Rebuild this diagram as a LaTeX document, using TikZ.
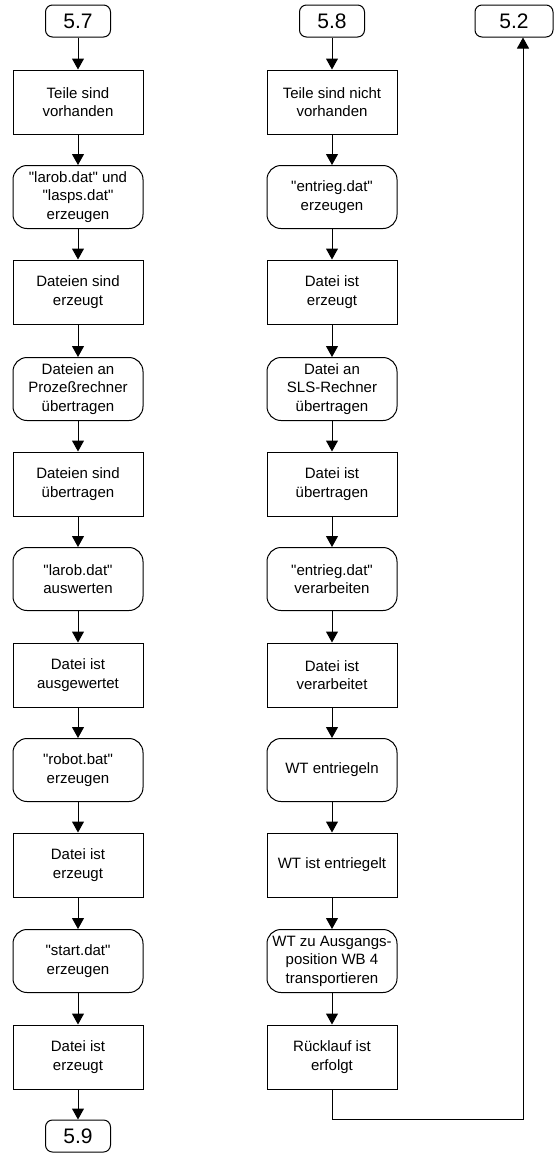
\documentclass[tikz,border=0pt]{standalone}
\usepackage{fontspec}
\setmainfont{Liberation Sans}[Ligatures=TeXOff]
\usetikzlibrary{arrows.meta}
\begin{document}
\begin{tikzpicture}[x=1pt,y=-1pt,
  base/.style={draw=black,line width=1pt,align=center,inner sep=0pt,
    font=\fontsize{15}{18.5}\selectfont},
  state/.style={base,minimum width=130pt,minimum height=64pt},
  action/.style={base,rounded corners=14pt,minimum width=130pt,minimum height=63pt},
  conn/.style={base,rounded corners=7pt,minimum width=65pt,minimum height=32pt,
    font=\fontsize{21}{24}\selectfont},
  flow/.style={line width=1pt,-{Triangle[width=12pt,length=11pt]}}]
\useasboundingbox (0,0) rectangle (556,1163);

% left chain 5.7 -> 5.9
\node[conn]   (c57) at (78,21)   {5.7};
\node[state]  (l1)  at (78,102)  {Teile sind\\vorhanden};
\node[action] (l2)  at (78,197)  {"larob.dat" und\\"lasps.dat"\\erzeugen};
\node[state]  (l3)  at (78,292)  {Dateien sind\\erzeugt};
\node[action] (l4)  at (78,389)  {Dateien an\\Prozeßrechner\\übertragen};
\node[state]  (l5)  at (78,484)  {Dateien sind\\übertragen};
\node[action] (l6)  at (78,579)  {"larob.dat"\\auswerten};
\node[state]  (l7)  at (78,675)  {Datei ist\\ausgewertet};
\node[action] (l8)  at (78,770)  {"robot.bat"\\erzeugen};
\node[state]  (l9)  at (78,865)  {Datei ist\\erzeugt};
\node[action] (l10) at (78,961)  {"start.dat"\\erzeugen};
\node[state]  (l11) at (78,1057) {Datei ist\\erzeugt};
\node[conn]   (c59) at (78,1136) {5.9};

% right chain 5.8 -> 5.2
\node[conn]   (c58) at (332,21)   {5.8};
\node[state]  (r1)  at (332,102)  {Teile sind nicht\\vorhanden};
\node[action] (r2)  at (332,197)  {"entrieg.dat"\\erzeugen};
\node[state]  (r3)  at (332,292)  {Datei ist\\erzeugt};
\node[action] (r4)  at (332,389)  {Datei an\\SLS-Rechner\\übertragen};
\node[state]  (r5)  at (332,484)  {Datei ist\\übertragen};
\node[action] (r6)  at (332,579)  {"entrieg.dat"\\verarbeiten};
\node[state]  (r7)  at (332,675)  {Datei ist\\verarbeitet};
\node[action] (r8)  at (332,770)  {WT entriegeln};
\node[state]  (r9)  at (332,865)  {WT ist entriegelt};
\node[action] (r10) at (332,961)  {WT zu Ausgangs-\\position WB 4\\transportieren};
\node[state]  (r11) at (332,1057) {Rücklauf ist\\erfolgt};
\node[conn,minimum width=78pt] (c52) at (514,21) {5.2};

\foreach \a/\b in {c57/l1,l1/l2,l2/l3,l3/l4,l4/l5,l5/l6,l6/l7,l7/l8,l8/l9,l9/l10,l10/l11,l11/c59,
                   c58/r1,r1/r2,r2/r3,r3/r4,r4/r5,r5/r6,r6/r7,r7/r8,r8/r9,r9/r10,r10/r11}
  \draw[flow] (\a) -- (\b);

% return line to 5.2
\coordinate (ret) at (523,1119);
\draw[flow] (r11.south) |- (ret) -- (ret |- c52.south);
\end{tikzpicture}
\end{document}
